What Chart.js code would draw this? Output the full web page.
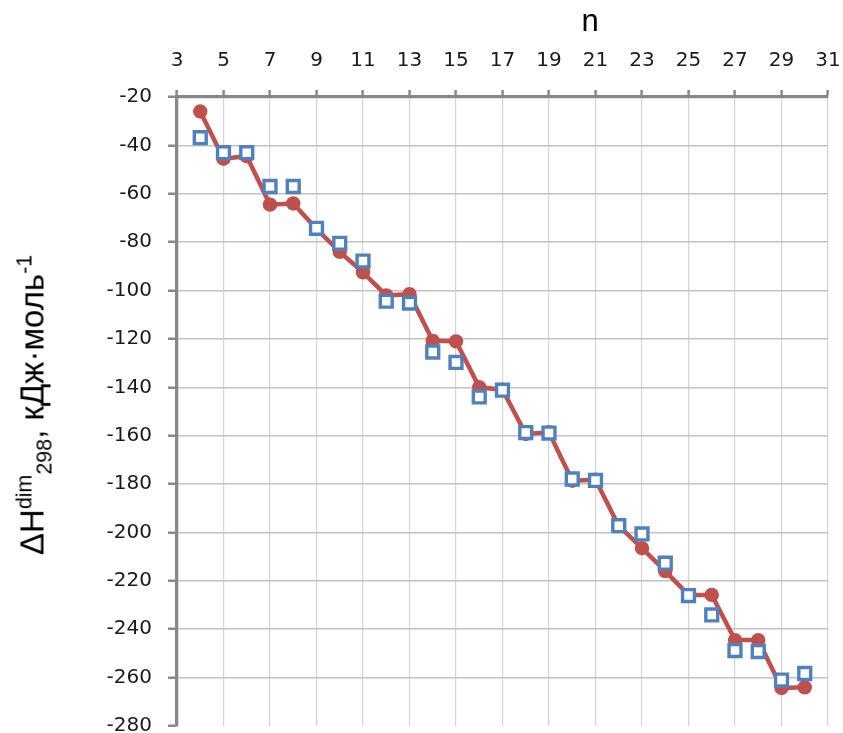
<!DOCTYPE html>
<html lang="ru">
<head>
    <meta charset="UTF-8">
    <title>ΔH dim 298</title>
    <style>
        body {
            margin: 0;
            padding: 0;
            background: #ffffff;
            font-family: "Liberation Sans", Arial, sans-serif;
        }
        .wrap {
            position: relative;
            width: 843px;
            height: 733px;
        }
        #x-title {
            position: absolute;
            left: 590px;
            top: 21px;
            transform: translate(-50%, -50%);
            font-size: 31px;
            color: #000;
        }
        #y-title {
            position: absolute;
            left: 35px;
            top: 405px;
            transform: translate(-50%, -50%) rotate(-90deg);
            font-size: 33px;
            color: #000;
            white-space: nowrap;
            line-height: 1;
        }
        #y-title sup, #y-title sub {
            font-size: 0.65em;
        }
    </style>
</head>
<body>
<div class="wrap">
    <canvas id="chart" width="843" height="733"></canvas>
    <div id="x-title">n</div>
    <div id="y-title">ΔH<sup>dim</sup><sub>298</sub>, кДж·моль<sup>-1</sup></div>
</div>

<script src="https://cdn.jsdelivr.net/npm/chart.js"></script>
<script>
// данные
const nValues = [4, 5, 6, 7, 8, 9, 10, 11, 12, 13, 14, 15, 16, 17, 18, 19, 20, 21, 22, 23, 24, 25, 26, 27, 28, 29, 30];
const dhCalc = [-26, -45.5, -44.5, -64.5, -64, -74.5, -84, -92.5, -102, -101.5, -120.8, -121, -140, -141, -159.3, -158.6,
                -178.6, -178.2, -197.3, -206.5, -216, -225.8, -225.8, -244.5, -244.5, -264.3, -264];
const dhRef = [-36.8, -43, -43, -57, -57, -74.3, -80.5, -87.8, -104.4, -105.2, -125.4, -129.7, -144, -141.2, -158.7, -158.9,
               -177.9, -178.5, -197.2, -200.6, -212.7, -226.1, -234.1, -248.8, -249.2, -261, -258.3];
const xTicks = [3, 5, 7, 9, 11, 13, 15, 17, 19, 21, 23, 25, 27, 29, 31];
const yTicks = [-280, -260, -240, -220, -200, -180, -160, -140, -120, -100, -80, -60, -40, -20];

const toPoints = arr => arr.map((y, i) => ({ x: nValues[i], y: y }));
const tickFont = { family: '"DejaVu Sans", sans-serif', size: 20 };

const ctx = document.getElementById('chart').getContext('2d');
new Chart(ctx, {
    type: 'line',
    data: {
        datasets: [
            {
                label: 'calc',
                data: toPoints(dhCalc),
                borderColor: '#C0504D',
                backgroundColor: '#C0504D',
                borderWidth: 4.5,
                pointRadius: 7.2,
                pointBorderWidth: 0,
                pointBackgroundColor: '#C0504D',
                tension: 0,
                order: 2
            },
            {
                label: 'ref',
                data: toPoints(dhRef),
                showLine: false,
                pointStyle: 'rect',
                pointRadius: 8.4,
                pointBorderWidth: 3.4,
                pointBorderColor: '#4F81BD',
                pointBackgroundColor: '#ffffff',
                order: 1
            }
        ]
    },
    options: {
        responsive: false,
        animation: false,
        devicePixelRatio: 1,
        layout: { autoPadding: false, padding: { left: 0, top: 0, right: 15, bottom: 7 } },
        plugins: {
            legend: { display: false },
            tooltip: { enabled: false }
        },
        scales: {
            x: {
                type: 'linear',
                position: 'top',
                min: 3,
                max: 31,
                afterBuildTicks: s => { s.ticks = xTicks.map(v => ({ value: v })); },
                afterFit: s => { s.height = 97; s.paddingLeft = 0; s.paddingRight = 0; },
                ticks: {
                    autoSkip: false,
                    maxRotation: 0,
                    padding: 17,
                    color: '#1a1a1a',
                    font: tickFont
                },
                grid: {
                    color: '#d4d4d4',
                    lineWidth: 1.2,
                    tickLength: 7,
                    tickColor: '#888',
                    tickWidth: 2.5
                },
                border: { color: '#888', width: 3.3 }
            },
            y: {
                min: -280,
                max: -20,
                afterBuildTicks: s => { s.ticks = yTicks.map(v => ({ value: v })); },
                afterFit: s => { s.width = 177; s.paddingTop = 0; s.paddingBottom = 0; },
                ticks: {
                    padding: 16,
                    color: '#1a1a1a',
                    font: tickFont
                },
                grid: {
                    color: c => (c.tick && c.tick.value === -280) ? 'rgba(0,0,0,0)' : '#c2c2c2',
                    lineWidth: 1.5,
                    tickLength: 9,
                    tickColor: '#888',
                    tickWidth: 2.5
                },
                border: { color: '#888', width: 3.3 }
            }
        }
    }
});
</script>
</body>
</html>
